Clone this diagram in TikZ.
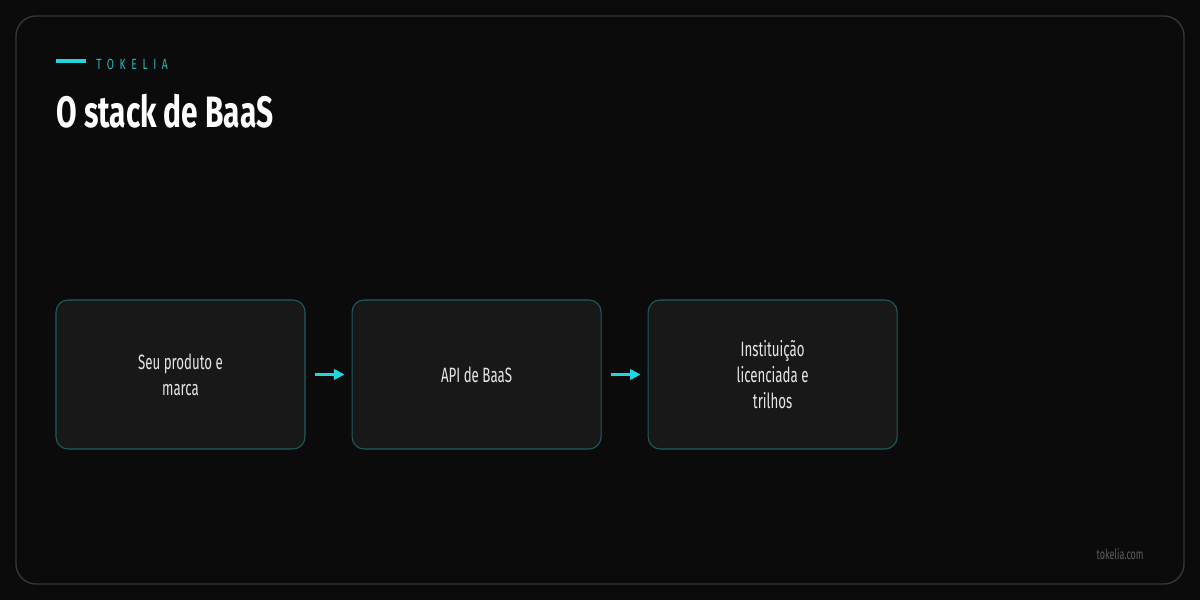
\documentclass[tikz,border=0pt]{standalone}
\usepackage{fontspec}
\setmainfont{Fira Sans}[FakeStretch=0.64]
\newfontfamily\titlefont{Fira Sans}[FakeStretch=0.68]
\newfontfamily\brandfont{Fira Sans}[FakeStretch=0.7,LetterSpace=38]
\usetikzlibrary{arrows.meta,positioning}
\definecolor{bgcol}{HTML}{0B0B0B}
\definecolor{framecol}{HTML}{363636}
\definecolor{boxfill}{HTML}{181818}
\definecolor{boxline}{HTML}{1F5C5E}
\definecolor{accent}{HTML}{22D6DE}
\definecolor{brandcol}{HTML}{2AB6BC}
\definecolor{bodytext}{HTML}{E6E6E6}
\definecolor{footcol}{HTML}{5E5E5E}
\tikzset{
    frame/.style={draw=framecol,line width=0.8pt,rounded corners=0.4cm},
    stackbox/.style={draw=boxline,fill=boxfill,line width=0.6pt,rounded corners=0.24cm,
        minimum width=4.98cm,minimum height=2.98cm,align=center,text=bodytext,
        font=\fontsize{11.8}{14.7}\selectfont},
    arr/.style={->,>={Stealth[inset=0pt,length=6pt,width=6pt]},accent,line width=1.3pt},
}

\begin{document}
\begin{tikzpicture}
    \fill[bgcol] (0,0) rectangle (24,12);
    \useasboundingbox (0,0) rectangle (24,12);
    \draw[frame] (0.32,0.32) rectangle (23.68,11.68);

    % header
    \draw[accent,line width=2pt] (1.12,10.78) -- (1.72,10.78);
    \node[anchor=base west,inner sep=0pt,text=brandcol,font=\brandfont\fontsize{8.4}{10}\selectfont] (brand) at (1.92,10.6) {TOKELIA};
    \node[anchor=base west,inner sep=0pt,text=white,font=\titlefont\bfseries\fontsize{25}{30}\selectfont] (title) at (1.12,9.44) {O stack de BaaS};

    % the three layers
    \node[stackbox] (product) at (3.61,4.51) {Seu produto e\\marca};
    \node[stackbox,right=0.92cm of product] (api) {API de BaaS};
    \node[stackbox,right=0.92cm of api] (bank) {Instituição\\licenciada e\\trilhos};

    \draw[arr] ([xshift=0.18cm]product.east) -- ([xshift=-0.14cm]api.west);
    \draw[arr] ([xshift=0.18cm]api.east) -- ([xshift=-0.14cm]bank.west);

    \node[anchor=base east,inner sep=0pt,text=footcol,font=\fontsize{8}{10}\selectfont] (site) at (22.88,0.82) {tokelia.com};
\end{tikzpicture}
\end{document}
